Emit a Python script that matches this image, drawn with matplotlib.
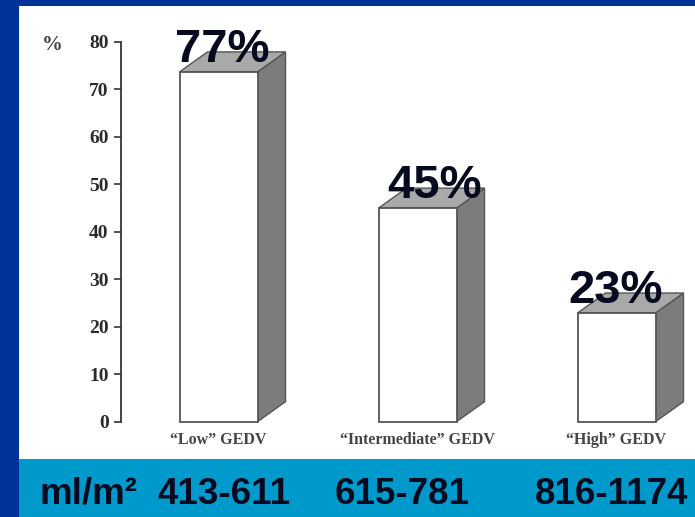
import matplotlib.pyplot as plt
from matplotlib.patches import Polygon, Rectangle
import matplotlib.transforms as mtransforms

# values
groups = ['\u201cLow\u201d GEDV', '\u201cIntermediate\u201d GEDV', '\u201cHigh\u201d GEDV']
heights = [73.7, 45.0, 22.9]
labels = ['77%', '45%', '23%']
ranges = ['413-611', '615-781', '816-1174']
yticks = [0, 10, 20, 30, 40, 50, 60, 70, 80]

W, H = 695, 517
navy = '#003399'
strip = '#0099cc'
ink = '#050a1e'

fig = plt.figure(figsize=(W / 100, H / 100), dpi=100, facecolor=navy)

#blue strip with the ranges
fig.patches.append(Rectangle((19 / W, 0), 1, (H - 459) / H, transform=fig.transFigure,
                             facecolor=strip, edgecolor='none', zorder=-1))

# axes = the white panel (19..695 px, 6..459 px)
ax = fig.add_axes([19 / W, (H - 459) / H, (W - 19) / W, (459 - 6) / H], facecolor='white')
px_y = (421.7 - 42) / 80.0     # pixels per % unit
px_x = 199.0                   # pixels per bar slot
ax.set_ylim(-(459 - 421.7) / px_y, 80 + (42 - 6) / px_y)
ax.set_xlim(-(218.5 - 19) / px_x, (695 - 218.5) / px_x)

width = 78 / px_x
dx = 28 / px_x
dy = 20 / px_y

for i, h in enumerate(heights):
    x0 = i - width / 2
    x1 = i + width / 2
    side = Polygon([(x1, 0), (x1 + dx, dy), (x1 + dx, h + dy), (x1, h)],
                   facecolor='#7c7c7c', edgecolor='#555555', lw=1.0, zorder=2)
    top = Polygon([(x0, h), (x1, h), (x1 + dx, h + dy), (x0 + dx, h + dy)],
                  facecolor='#a9a9a9', edgecolor='#555555', lw=1.0, zorder=2)
    front = Rectangle((x0, 0), width, h, facecolor='white', edgecolor='#555555',
                      lw=1.3, zorder=3)
    ax.add_patch(side)
    ax.add_patch(top)
    ax.add_patch(front)

# percentage labels over the bars
label_dx = [4, 17, -1]
for i, (h, t) in enumerate(zip(heights, labels)):
    ax.text(i + label_dx[i] / px_x, h + 10 / px_y, t, ha='center', va='baseline',
            fontsize=34, fontweight='bold', family='Liberation Sans', color=ink, zorder=5)

# group names under the bars
for i, g in enumerate(groups):
    ax.text(i, -(440 - 421.7) / px_y, g, ha='center', va='center', fontsize=11.5,
            fontweight='bold', family='Liberation Serif', color='#444444')

# y axis like the scanned figure
for s in ['top', 'right', 'bottom']:
    ax.spines[s].set_visible(False)
ax.spines['left'].set_position(('data', -(218.5 - 121) / px_x))
ax.spines['left'].set_bounds(0, 80)
ax.spines['left'].set_color('#333333')
ax.spines['left'].set_linewidth(1.3)
ax.set_yticks(yticks)
ax.set_xticks([])
ax.tick_params(axis='y', direction='out', length=5, width=1.2, color='#333333',
               labelcolor='#2a2a2a', pad=4)
for lab in ax.get_yticklabels():
    lab.set_family('Liberation Serif')
    lab.set_fontweight('bold')
    lab.set_fontsize(14)
ax.text(52 / W, (H - 45) / H, '%', transform=fig.transFigure, ha='center', va='center',
        fontsize=15, fontweight='bold', family='Liberation Serif', color='#444444')

# strip texts
tr = mtransforms.blended_transform_factory(ax.transData, fig.transFigure)
fig.text(88.5 / W, (H - 504) / H, 'ml/m²', ha='center', va='baseline', fontsize=26.5,
         fontweight='bold', family='Liberation Sans', color=ink)
range_dx = [5.5, -15, -5]
for i, r in enumerate(ranges):
    fig.text(i + range_dx[i] / px_x, (H - 504) / H, r, transform=tr, ha='center',
             va='baseline', fontsize=26.5, fontweight='bold', family='Liberation Sans',
             color=ink)

fig.savefig('out.png', dpi=100, facecolor=navy)
